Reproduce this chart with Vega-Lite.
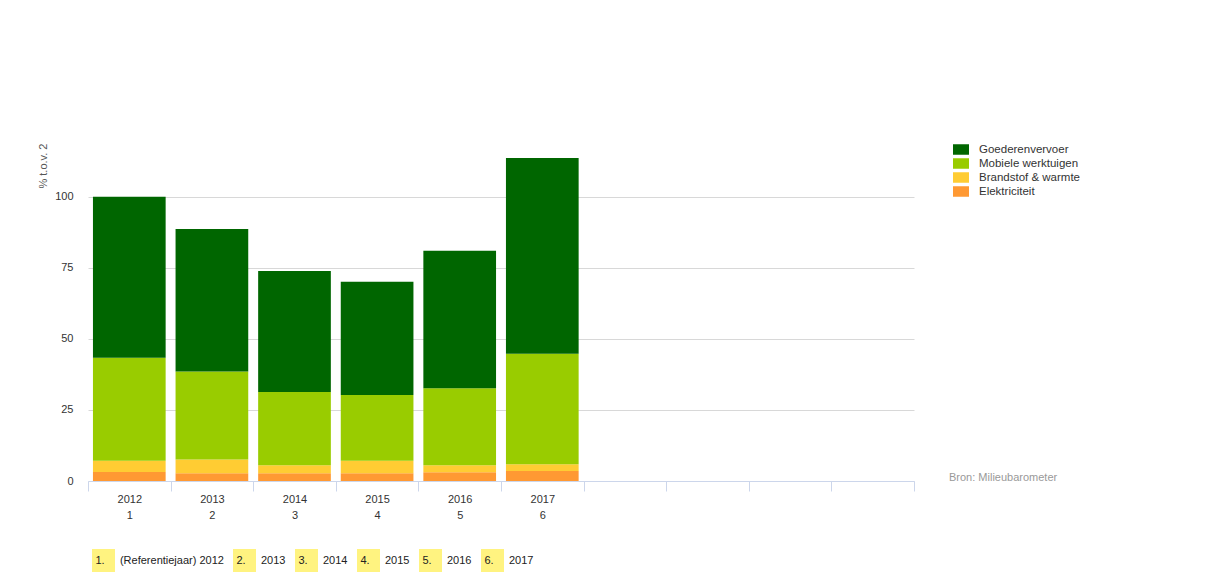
{
  "$schema": "https://vega.github.io/schema/vega-lite/v6.json",
  "width": 826,
  "height": 341,
  "autosize": {"type": "none"},
  "padding": {"left": 88, "top": 140, "right": 292, "bottom": 103},
  "background": "#ffffff",
  "config": {"view": {"stroke": null}, "font": "Liberation Sans"},
  "title": {
    "text": "Bron: Milieubarometer",
    "orient": "top",
    "anchor": "start",
    "frame": "group",
    "offset": 0,
    "dx": 861,
    "dy": 354,
    "fontSize": 11,
    "fontWeight": "normal",
    "color": "#999999",
    "baseline": "bottom"
  },
  "layer": [
    {
      "data": {
        "values": [
          {"jaar": "2012", "categorie": "Elektriciteit", "waarde": 3.2},
          {"jaar": "2012", "categorie": "Brandstof & warmte", "waarde": 3.9},
          {"jaar": "2012", "categorie": "Mobiele werktuigen", "waarde": 36.3},
          {"jaar": "2012", "categorie": "Goederenvervoer", "waarde": 56.6},
          {"jaar": "2013", "categorie": "Elektriciteit", "waarde": 2.7},
          {"jaar": "2013", "categorie": "Brandstof & warmte", "waarde": 4.9},
          {"jaar": "2013", "categorie": "Mobiele werktuigen", "waarde": 30.9},
          {"jaar": "2013", "categorie": "Goederenvervoer", "waarde": 50.2},
          {"jaar": "2014", "categorie": "Elektriciteit", "waarde": 2.7},
          {"jaar": "2014", "categorie": "Brandstof & warmte", "waarde": 2.8},
          {"jaar": "2014", "categorie": "Mobiele werktuigen", "waarde": 25.8},
          {"jaar": "2014", "categorie": "Goederenvervoer", "waarde": 42.6},
          {"jaar": "2015", "categorie": "Elektriciteit", "waarde": 2.7},
          {"jaar": "2015", "categorie": "Brandstof & warmte", "waarde": 4.4},
          {"jaar": "2015", "categorie": "Mobiele werktuigen", "waarde": 23.2},
          {"jaar": "2015", "categorie": "Goederenvervoer", "waarde": 39.8},
          {"jaar": "2016", "categorie": "Elektriciteit", "waarde": 3.1},
          {"jaar": "2016", "categorie": "Brandstof & warmte", "waarde": 2.4},
          {"jaar": "2016", "categorie": "Mobiele werktuigen", "waarde": 27.1},
          {"jaar": "2016", "categorie": "Goederenvervoer", "waarde": 48.4},
          {"jaar": "2017", "categorie": "Elektriciteit", "waarde": 3.5},
          {"jaar": "2017", "categorie": "Brandstof & warmte", "waarde": 2.4},
          {"jaar": "2017", "categorie": "Mobiele werktuigen", "waarde": 38.9},
          {"jaar": "2017", "categorie": "Goederenvervoer", "waarde": 68.9}
        ]
      },
      "transform": [
        {
          "calculate": "indexof(['Elektriciteit', 'Brandstof & warmte', 'Mobiele werktuigen', 'Goederenvervoer'], datum.categorie)",
          "as": "stapel"
        }
      ],
      "mark": {"type": "bar", "width": {"band": 0.88}},
      "encoding": {
        "x": {
          "field": "jaar",
          "type": "nominal",
          "scale": {
            "domain": ["2012", "2013", "2014", "2015", "2016", "2017", "e1", "e2", "e3", "e4"],
            "paddingInner": 0,
            "paddingOuter": 0
          },
          "axis": {
            "title": null,
            "labelAngle": 0,
            "labelExpr": "length(datum.label) == 4 ? [datum.label, '' + (toNumber(datum.label) - 2011)] : ''",
            "labelFontSize": 11,
            "labelColor": "#333333",
            "labelLineHeight": 16,
            "labelPadding": 2,
            "labelOverlap": false,
            "tickBand": "extent",
            "tickSize": 10,
            "tickColor": "#ccd6eb",
            "domainColor": "#ccd6eb",
            "grid": false,
            "zindex": 1
          }
        },
        "y": {
          "field": "waarde",
          "type": "quantitative",
          "stack": "zero",
          "scale": {"domain": [0, 120], "nice": false},
          "axis": {
            "title": "% t.o.v. 2",
            "values": [0, 25, 50, 75, 100],
            "ticks": false,
            "tickSize": 0,
            "domain": false,
            "grid": true,
            "gridColor": "#d8d8d8",
            "labelFontSize": 11,
            "labelColor": "#333333",
            "labelPadding": 15,
            "titleFontSize": 11,
            "titleFontWeight": "normal",
            "titleColor": "#555555",
            "titleAnchor": "end",
            "titleAngle": -90,
            "titleAlign": "right",
            "titleBaseline": "middle",
            "titleX": -45,
            "titleY": 3
          }
        },
        "color": {
          "field": "categorie",
          "type": "nominal",
          "scale": {
            "domain": ["Goederenvervoer", "Mobiele werktuigen", "Brandstof & warmte", "Elektriciteit"],
            "range": ["#006600", "#99cc00", "#ffcc33", "#ff9933"]
          },
          "legend": {
            "title": null,
            "orient": "none",
            "legendX": 865,
            "legendY": 1.5,
            "symbolType": "M-1,-0.65625H1V0.65625H-1Z",
            "symbolSize": 256,
            "symbolStrokeWidth": 0,
            "labelFontSize": 11.5,
            "labelColor": "#333333",
            "labelOffset": 10,
            "rowPadding": -1.5
          }
        },
        "order": {"field": "stapel", "type": "quantitative", "sort": "ascending"}
      }
    },
    {
      "data": {
        "values": [
          {"item": "1.\u00a0\u00a0\u00a0\u00a0\u00a0(Referentiejaar) 2012"},
          {"item": "2.\u00a0\u00a0\u00a0\u00a0\u00a02013"},
          {"item": "3.\u00a0\u00a0\u00a0\u00a0\u00a02014"},
          {"item": "4.\u00a0\u00a0\u00a0\u00a0\u00a02015"},
          {"item": "5.\u00a0\u00a0\u00a0\u00a0\u00a02016"},
          {"item": "6.\u00a0\u00a0\u00a0\u00a0\u00a02017"}
        ]
      },
      "mark": {"type": "point", "filled": true, "opacity": 0},
      "encoding": {
        "color": {
          "field": "item",
          "type": "nominal",
          "scale": {
            "domain": [
              "1.\u00a0\u00a0\u00a0\u00a0\u00a0(Referentiejaar) 2012",
              "2.\u00a0\u00a0\u00a0\u00a0\u00a02013",
              "3.\u00a0\u00a0\u00a0\u00a0\u00a02014",
              "4.\u00a0\u00a0\u00a0\u00a0\u00a02015",
              "5.\u00a0\u00a0\u00a0\u00a0\u00a02016",
              "6.\u00a0\u00a0\u00a0\u00a0\u00a02017"
            ],
            "range": ["#fff380", "#fff380", "#fff380", "#fff380", "#fff380", "#fff380"]
          },
          "legend": {
            "title": null,
            "orient": "none",
            "direction": "horizontal",
            "legendX": 4,
            "legendY": 409,
            "symbolType": "square",
            "symbolSize": 529,
            "symbolOpacity": 1,
            "symbolStrokeWidth": 0,
            "labelOffset": -19.5,
            "labelFontSize": 11,
            "labelColor": "#222222",
            "labelLimit": 300,
            "columnPadding": 9
          }
        }
      }
    }
  ],
  "resolve": {"scale": {"color": "independent"}, "legend": {"color": "independent"}}
}
